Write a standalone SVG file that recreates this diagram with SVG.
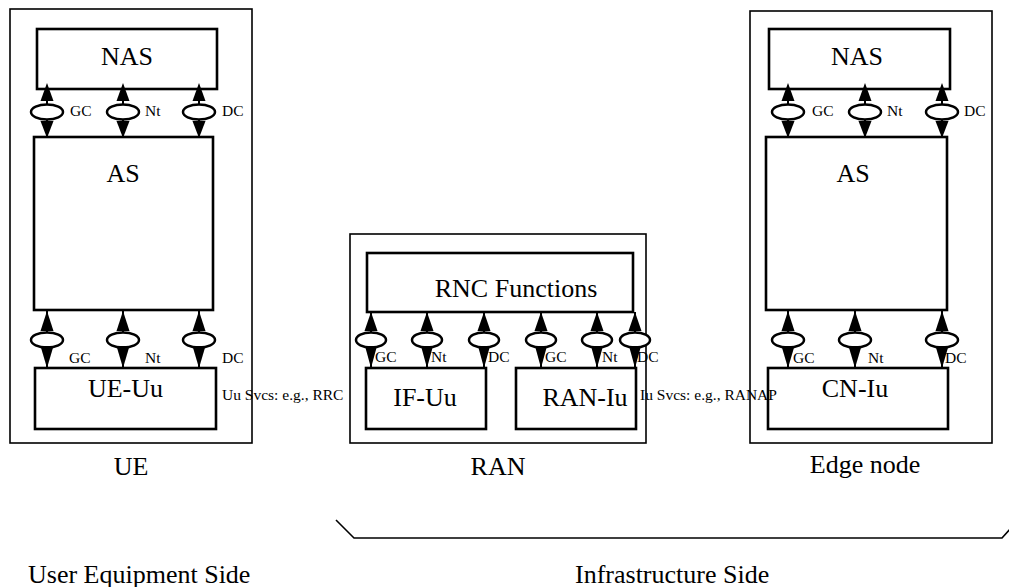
<svg xmlns="http://www.w3.org/2000/svg" width="1009" height="587" viewBox="0 0 1009 587">
<style>
.outer{fill:#fff;stroke:#000;stroke-width:1.6}
.box{fill:#fff;stroke:#000;stroke-width:2.6}
text{font-family:'Liberation Serif','Times New Roman',Tinos,'DejaVu Serif',serif;fill:#000}
.big{font-size:26px}
.sm{font-size:15.5px}
.ln{stroke:#000;stroke-width:2;fill:none}
.el{fill:#fff;stroke:#000;stroke-width:2.5}
.hd{fill:#000}
</style>
<defs>
<g id="cTop">
<line class="ln" x1="0" y1="0" x2="0" y2="48"/>
<polygon class="hd" points="0,-6 -6.5,12 6.5,12"/>
<ellipse class="el" cx="0" cy="23" rx="16" ry="7.5"/>
<polygon class="hd" points="0,49 -6.5,32 6.5,32"/>
</g>
<g id="cBot">
<line class="ln" x1="0" y1="0" x2="0" y2="58"/>
<polygon class="hd" points="0,1 -6.5,21 6.5,21"/>
<ellipse class="el" cx="0" cy="30" rx="16" ry="7.5"/>
<polygon class="hd" points="0,58 -6.5,36 6.5,36"/>
</g>
<g id="cRan">
<line class="ln" x1="0" y1="0" x2="0" y2="56"/>
<polygon class="hd" points="0,0 -6.5,19 6.5,19"/>
<ellipse class="el" cx="0" cy="28" rx="15" ry="7.5"/>
<polygon class="hd" points="0,56 -6,34 6,34"/>
</g>
</defs>

<g id="ue">
<rect class="outer" x="10" y="9" width="242" height="434"/>
<g id="ue-nas"><rect class="box" x="37" y="29" width="180" height="60"/><text class="big" x="127" y="65" text-anchor="middle">NAS</text></g>
<g id="ue-as"><rect class="box" x="34" y="137" width="179" height="173"/><text class="big" x="123" y="182" text-anchor="middle">AS</text></g>
<g id="ue-uu"><rect class="box" x="35" y="368" width="181" height="61"/><text class="big" x="125.5" y="397" text-anchor="middle">UE-Uu</text></g>
<text class="big" x="131" y="475" text-anchor="middle">UE</text>
</g>

<g id="ran">
<rect class="outer" x="350" y="234" width="296" height="209"/>
<g id="rnc"><rect class="box" x="367" y="253" width="266" height="59"/><text class="big" x="516" y="297" text-anchor="middle">RNC Functions</text></g>
<g id="ifuu"><rect class="box" x="366" y="368" width="120" height="61"/><text class="big" x="425" y="406" text-anchor="middle">IF-Uu</text></g>
<g id="raniu"><rect class="box" x="516" y="368" width="120" height="61"/><text class="big" x="585" y="406" text-anchor="middle">RAN-Iu</text></g>
<text class="big" x="498" y="475" text-anchor="middle">RAN</text>
</g>

<g id="edge">
<rect class="outer" x="750" y="11" width="242" height="432"/>
<g id="edge-nas"><rect class="box" x="769" y="29" width="181" height="60"/><text class="big" x="857" y="65" text-anchor="middle">NAS</text></g>
<g id="edge-as"><rect class="box" x="766" y="137" width="181" height="173"/><text class="big" x="853" y="182" text-anchor="middle">AS</text></g>
<g id="cniu"><rect class="box" x="768" y="368" width="180" height="61"/><text class="big" x="855" y="397" text-anchor="middle">CN-Iu</text></g>
<text class="big" x="865" y="473" text-anchor="middle">Edge node</text>
</g>

<g id="connectors">
<use href="#cTop" x="47" y="89"/>
<use href="#cTop" x="123" y="89"/>
<use href="#cTop" x="199" y="89"/>
<use href="#cBot" x="47" y="310"/>
<use href="#cBot" x="123" y="310"/>
<use href="#cBot" x="199" y="310"/>
<use href="#cRan" x="371" y="312"/>
<use href="#cRan" x="427" y="312"/>
<use href="#cRan" x="484" y="312"/>
<use href="#cRan" x="541" y="312"/>
<use href="#cRan" x="597" y="312"/>
<use href="#cRan" x="635" y="312"/>
<use href="#cTop" x="788" y="89"/>
<use href="#cTop" x="865" y="89"/>
<use href="#cTop" x="942" y="89"/>
<use href="#cBot" x="788" y="310"/>
<use href="#cBot" x="855" y="310"/>
<use href="#cBot" x="942" y="310"/>
</g>

<g id="labels">
<text class="sm" x="70" y="116">GC</text>
<text class="sm" x="145" y="116">Nt</text>
<text class="sm" x="222" y="116">DC</text>
<text class="sm" x="69" y="363">GC</text>
<text class="sm" x="145" y="363">Nt</text>
<text class="sm" x="222" y="363">DC</text>
<text class="sm" x="375" y="362">GC</text>
<text class="sm" x="431" y="362">Nt</text>
<text class="sm" x="488" y="362">DC</text>
<text class="sm" x="545" y="362">GC</text>
<text class="sm" x="602" y="362">Nt</text>
<text class="sm" x="637" y="362">DC</text>
<text class="sm" x="812" y="116">GC</text>
<text class="sm" x="887" y="116">Nt</text>
<text class="sm" x="964" y="116">DC</text>
<text class="sm" x="793" y="363">GC</text>
<text class="sm" x="868" y="363">Nt</text>
<text class="sm" x="945" y="363">DC</text>
<text class="sm" x="222" y="400">Uu Svcs: e.g., RRC</text>
<text class="sm" x="640" y="400">Iu Svcs: e.g., RANAP</text>
</g>

<g id="bracket">
<polyline class="ln" style="stroke-width:1.6" points="336,520 354,538 1002,538 1011,528"/>
</g>
<g id="sides">
<text class="big" x="28" y="583">User Equipment Side</text>
<text class="big" x="575" y="583">Infrastructure Side</text>
</g>
</svg>
